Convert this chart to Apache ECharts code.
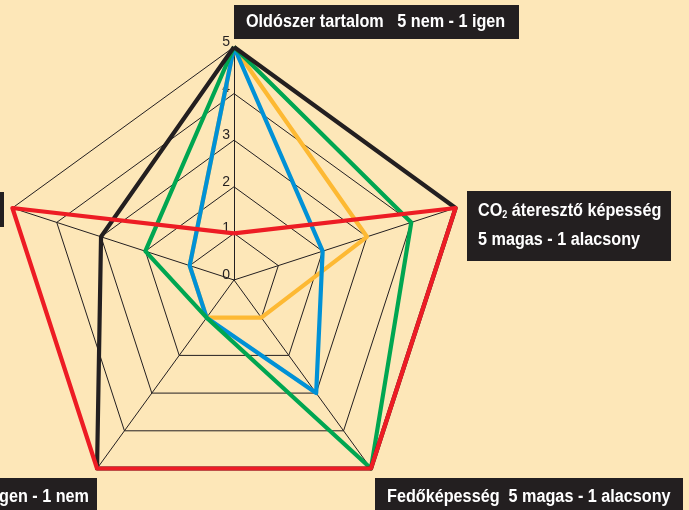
<!DOCTYPE html>
<html>
<head>
<meta charset="utf-8">
<script src="https://cdn.jsdelivr.net/npm/echarts@6/dist/echarts.min.js"></script>
<style>
  html, body { margin: 0; padding: 0; background: #fde7b8; }
  #chart { width: 689px; height: 510px; }
</style>
</head>
<body>
<div id="chart"></div>
<script>
// tengelyek (az ECharts az óramutatóval ellentétes irányban rakja le őket, felülről indulva)
var indicatorNames = [
  "Oldószer tartalom",
  "Páraáteresztés",
  "Vízzel hígítható",
  "Fedőképesség",
  "CO2 áteresztő képesség"
];
var tickLabels = [0, 1, 2, 3, 4, 5];

// értékek: [felső, bal, bal lent, jobb lent, jobb]
var orangeValues = [5, 1, 1, 1, 3];
var blueValues = [5, 1, 1, 3, 2];
var greenValues = [5, 2, 1, 5, 4];
var blackValues = [5, 3, 5, 5, 5];
var redValues = [1, 5, 5, 5, 5];

var seriesList = [
  { name: "narancs", values: orangeValues, color: "#fdb933" },
  { name: "kék", values: blueValues, color: "#0091d6" },
  { name: "zöld", values: greenValues, color: "#00a651" },
  { name: "fekete", values: blackValues, color: "#231f20" },
  { name: "piros", values: redValues, color: "#ed1c24" }
];

var chart = echarts.init(document.getElementById("chart"));

var labelFont = '"Liberation Sans", Arial, sans-serif';
var boxFont = "bold 18px " + labelFont;
var squeeze = 0.9; // keskenyített betű utánzása

function boxText(x, y, text, align, extra) {
  var style = { text: text, fill: "#fff", font: boxFont, verticalAlign: "middle", align: align || "left" };
  if (extra) Object.assign(style, extra);
  return { type: "text", x: x, y: y, scaleX: squeeze, style: style };
}

var option = {
  backgroundColor: "#fde7b8",
  animation: false,
  radar: {
    center: [234, 280],
    radius: 233,
    startAngle: 90,
    splitNumber: 5,
    shape: "polygon",
    indicator: indicatorNames.map(function (n) {
      return { name: n, min: 0, max: 5 };
    }),
    axisName: { show: false },
    axisLine: { lineStyle: { color: "#231f20", width: 1 } },
    splitLine: { lineStyle: { color: "#231f20", width: 1 } },
    splitArea: { show: false },
    axisTick: { show: false },
    axisLabel: { show: false }
  },
  // csak a függőleges tengely feliratai (0..5)
  polar: { center: [234, 280], radius: 233 },
  angleAxis: { type: "value", startAngle: 90, min: 0, max: 360, show: false },
  radiusAxis: {
    type: "value",
    min: 0,
    max: 5,
    interval: 1,
    axisLine: { show: false },
    axisTick: { show: false },
    splitLine: { show: false },
    axisLabel: {
      show: true,
      color: "#231f20",
      fontSize: 14,
      fontFamily: labelFont,
      margin: 4,
      verticalAlign: "bottom",
      lineHeight: 10,
      formatter: function (v) {
        return tickLabels.indexOf(v) >= 0 ? String(v) : "";
      }
    }
  },
  series: seriesList.map(function (s) {
    return {
      type: "radar",
      name: s.name,
      symbol: "none",
      lineStyle: { color: s.color, width: 4.2 },
      data: [{ value: s.values, name: s.name }]
    };
  }),
  graphic: [
    // felső felirat
    { type: "rect", shape: { x: 234, y: 5, width: 285, height: 34 }, style: { fill: "#231f20" } },
    boxText(246, 22, "Oldószer tartalom   5 nem - 1 igen"),
    // jobb oldali felirat
    { type: "rect", shape: { x: 467, y: 191, width: 204, height: 70 }, style: { fill: "#231f20" } },
    boxText(478, 211, "CO{sub|2} áteresztő képesség", "left", {
      rich: { sub: { fontSize: 10, fontWeight: "bold", fontFamily: labelFont, fill: "#fff", padding: [8, 0, 0, 0] } }
    }),
    boxText(478, 240, "5 magas - 1 alacsony"),
    // jobb alsó felirat
    { type: "rect", shape: { x: 375, y: 478, width: 308, height: 40 }, style: { fill: "#231f20" } },
    boxText(387, 497, "Fedőképesség  5 magas - 1 alacsony"),
    // bal alsó felirat (kilóg a képből)
    { type: "rect", shape: { x: -200, y: 478, width: 297, height: 40 }, style: { fill: "#231f20" } },
    boxText(89, 497, "Vízzel hígítható  5 igen - 1 nem", "right"),
    // bal oldali felirat (kilóg a képből)
    { type: "rect", shape: { x: -200, y: 192, width: 204, height: 35 }, style: { fill: "#231f20" } },
    boxText(-4, 210, "Páraáteresztés", "right")
  ]
};

chart.setOption(option);
</script>
</body>
</html>
